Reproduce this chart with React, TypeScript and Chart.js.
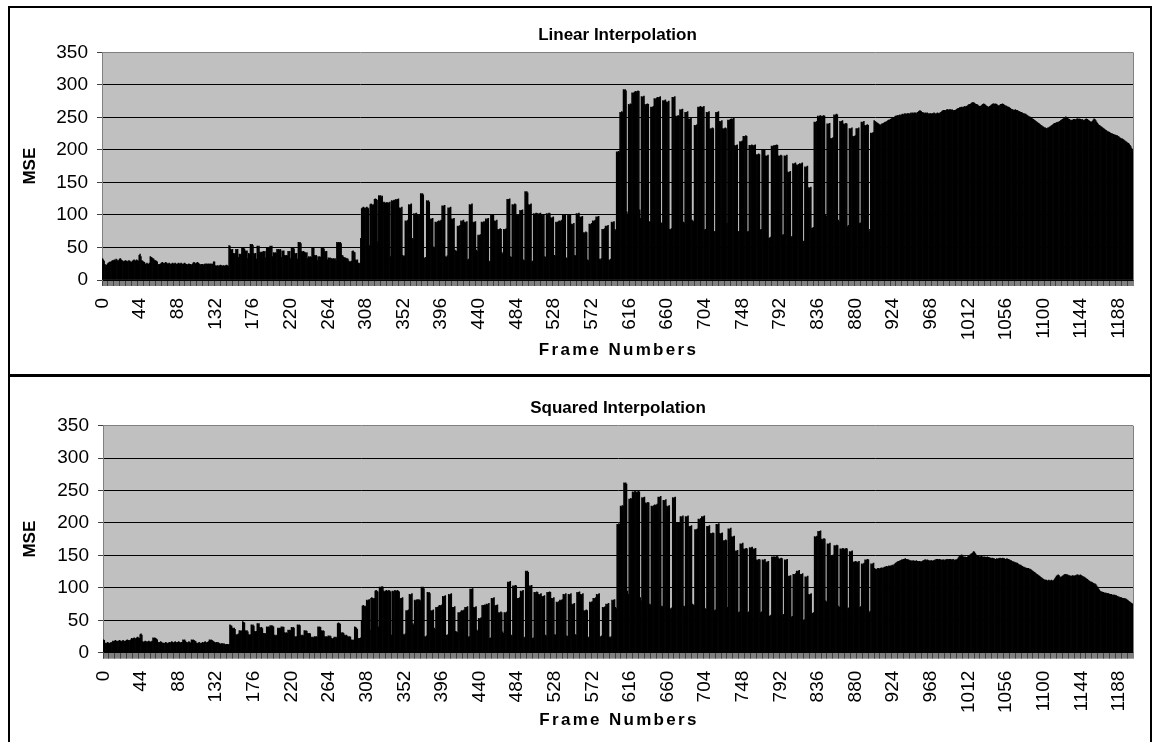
import { useEffect, useRef } from 'react';
import { Chart, registerables } from 'chart.js';

Chart.register(...registerables);

const FONT = "'Liberation Sans', Arial, Helvetica, sans-serif";
const FRAME_COUNT = 1205;
const frameNumbers = Array.from({ length: FRAME_COUNT }, (_, i) => String(i));
const tickLabels = [0, 44, 88, 132, 176, 220, 264, 308, 352, 396, 440, 484, 528, 572, 616, 660, 704, 748, 792, 836, 880, 924, 968, 1012, 1056, 1100, 1144, 1188];
const yTicks = [0, 50, 100, 150, 200, 250, 300, 350];
const X_TITLE = 'Frame Numbers';
const Y_TITLE = 'MSE';

// ---------- Linear interpolation MSE (frames 0..1204) ----------
const linearA = [
  33, 31, 29, 24, 22, 23, 25, 26, 27, 28, 27, 29, 30, 30, 31, 30, 32, 31, 29, 30, 32, 33, 31, 30, 29, 28, 29, 30,
  29, 28, 29, 30, 29, 28, 27, 29, 30, 31, 30, 29, 31, 30, 29, 38, 40, 36, 30, 29, 28, 27, 25, 24, 26, 25, 24, 26,
  36, 35, 34, 33, 32, 30, 30, 29, 28, 24, 23, 24, 25, 26, 27, 26, 25, 26, 27,
  26, 25, 25, 26, 25, 24, 25, 26, 25, 25, 26, 25, 24, 25, 26, 25, 25, 26, 25, 24, 25, 26, 25,
  24, 23, 24, 25, 24, 24, 23, 24, 26, 27, 26, 25, 26, 27, 26, 25, 24, 23, 24, 24, 23, 24, 25, 24,
  25, 24, 25, 24, 25, 24, 25, 24, 28, 28, 22, 21, 22, 22, 21, 22, 23, 22, 21, 22, 22, 21, 22, 23, 22, 21,
];
const linearB = [
  53, 52, 47, 46, 47, 41, 40, 41, 47, 46, 47, 35, 40, 39, 40, 50, 49, 50, 48, 45, 44, 45, 33, 41, 40,
  55, 54, 55, 53, 41, 40, 41, 32, 52, 51, 52, 43, 42, 43, 42, 44, 43, 44, 34, 50, 49, 50, 49, 52, 51, 52, 36,
  42, 41, 42, 41, 47, 46, 47, 46, 47, 35, 45, 44, 45, 38, 37, 38, 37, 44, 43, 44, 33, 50, 49, 50, 48,
  41, 40, 41, 32, 58, 57, 58, 56, 44, 43, 44, 43, 42, 41, 42, 33, 36, 35, 36, 35, 50, 49, 50, 38, 37, 38, 30,
  36, 35, 36, 35, 50, 49, 50, 48, 44, 43, 44, 31, 34, 33, 34, 33, 33, 32, 33, 32, 33, 30, 58, 57, 58, 57, 58, 56,
  38, 37, 35, 34, 34, 33, 33, 32, 29, 28, 28, 29, 44, 45, 43, 42, 31, 30, 31, 26, 25, 26,
];
const linearC = [
  64, 110, 111, 112, 111, 110, 111, 112, 111, 110, 53, 116, 117, 116, 115, 116, 124, 125, 124, 123, 59,
  130, 129, 130, 128, 129, 119, 120, 119, 118, 119, 119, 118, 119, 120, 36, 122, 121, 122, 123, 122,
  124, 123, 124, 125, 111, 110, 111, 112, 38, 36, 37, 91, 90, 91, 92, 116, 115, 116, 117, 64, 62,
  102, 101, 102, 103, 100, 99, 100, 101, 133, 132, 133, 131, 34, 33, 35, 122, 121, 122, 120, 94, 93, 94, 95, 51, 49,
  89, 88, 89, 90, 91, 90, 91, 92, 114, 113, 114, 115, 36, 35, 37, 111, 110, 111, 112, 94, 93, 94, 95, 46, 45, 44,
  83, 82, 83, 84, 91, 90, 91, 92, 89, 88, 89, 90, 31, 32, 116, 115, 116, 117, 89, 88, 89, 90, 46, 44,
  69, 68, 69, 70, 89, 88, 89, 90, 89, 94, 93, 94, 95, 28, 29, 100, 99, 100, 101, 91, 90, 91, 92, 78, 77, 78, 79, 78, 42, 40,
  78, 77, 78, 79, 124, 123, 124, 125, 36, 35, 116, 115, 116, 117, 116, 100, 99, 100, 101, 107, 106, 107, 108, 31, 30,
  136, 135, 136, 134, 116, 115, 116, 117, 28, 29, 102, 101, 102, 103, 102, 102, 101, 102, 103, 100, 99, 100, 101, 36, 35,
  102, 101, 102, 103, 102, 96, 95, 96, 97, 38, 37, 89, 88, 89, 90, 91, 90, 91, 92, 100, 99, 100, 101, 34, 33,
  100, 99, 100, 101, 86, 85, 86, 87, 38, 37, 102, 101, 102, 103, 97, 96, 97, 98, 73, 72, 73, 74, 73, 31, 30,
  86, 85, 86, 87, 91, 90, 91, 92, 97, 96, 97, 98, 32, 31, 33, 78, 77, 78, 79, 83, 82, 83, 84, 31, 30, 32, 89, 88, 89, 90, 78, 76,
];
const linearD = [
  197, 196, 198, 197, 258, 257, 259, 258, 293, 292, 293, 291, 105, 100, 270, 269, 271, 270, 288, 287, 288, 289,
  290, 289, 290, 291, 290, 108, 95, 282, 281, 282, 283, 270, 269, 270, 271, 270, 90, 89,
  266, 265, 266, 267, 279, 278, 279, 280, 281, 280, 281, 282, 88, 87, 276, 275, 276, 277, 274, 273, 274, 275, 78, 77, 79,
  281, 280, 281, 282, 252, 251, 252, 253, 252, 262, 261, 262, 263, 89, 88, 258, 257, 258, 259, 248, 247, 248, 249, 92, 91, 90,
  238, 237, 238, 239, 266, 265, 266, 267, 266, 265, 266, 267, 77, 78, 258, 257, 258, 259, 233, 232, 233, 234, 233, 74, 75,
  258, 257, 258, 259, 244, 243, 244, 245, 233, 232, 233, 234, 233, 87, 246, 245, 246, 247, 248, 247, 248, 249,
  207, 206, 207, 208, 74, 75, 213, 212, 213, 214, 221, 220, 221, 222, 221, 74, 75, 207, 206, 207, 208, 207, 206, 207, 208,
  193, 192, 193, 194, 193, 77, 78, 200, 199, 200, 201, 191, 190, 191, 192, 64, 65, 66, 206, 205, 206,
  207, 206, 207, 208, 207, 191, 190, 191, 192, 191, 69, 70, 191, 190, 191, 192, 166, 165, 166, 167, 66, 67,
  179, 178, 179, 180, 177, 176, 177, 178, 179, 178, 179, 180, 59, 60, 174, 173, 174, 175, 142, 141, 142, 143, 79, 80, 81,
  243, 242, 243, 244, 252, 251, 252, 253, 252, 251, 252, 253, 252, 100, 98, 240, 239, 240, 241, 218, 217, 218, 219,
  254, 253, 254, 255, 254, 92, 90, 244, 243, 244, 245, 240, 239, 240, 241, 240, 82, 84,
  233, 232, 233, 234, 221, 220, 221, 222, 233, 232, 233, 234, 87, 88, 243, 242, 243, 244, 238, 237, 238, 239, 238, 74, 78,
  226, 225, 226, 227,
];
const linearE = [
  245, 244, 243, 242, 241, 240, 239, 238, 239, 240, 240, 241, 242, 243, 243, 244, 245, 246, 246, 247,
  248, 249, 250, 250, 251, 252, 252, 253, 253, 253, 254, 253, 254, 255, 254, 255, 256, 255, 255, 256,
  256, 255, 256, 257, 256, 257, 256, 257, 257, 256, 257, 258, 259, 260, 260, 259, 258, 257, 257, 256,
  257, 256, 257, 256, 255, 256, 256, 255, 256, 256, 257, 256, 255, 256, 257, 256, 256, 257, 258, 259,
  260, 261, 261, 260, 261, 262, 262, 261, 262, 262, 261, 262, 261, 260, 261, 261, 262, 263, 264, 264,
  265, 265, 266, 265, 266, 266, 267, 266, 267, 268, 269, 270, 270, 271, 272, 273, 273, 272, 271, 270,
  270, 269, 268, 267, 267, 268, 269, 270, 271, 270, 269, 268, 267, 266, 266, 267, 268, 269, 270, 271,
  271, 270, 271, 270, 269, 268, 268, 269, 270, 270, 271, 270, 269, 268, 268, 267, 266, 266, 265, 264,
  263, 262, 262, 261, 261, 262, 261, 261, 260, 259, 259, 258, 258, 257, 256, 256, 255, 255, 254, 253,
  252, 251, 251, 250, 249, 248, 247, 246, 245, 244, 243, 242, 241, 240, 239, 238, 237, 236, 235, 234,
  234, 233, 233, 234, 234, 235, 236, 237, 238, 239, 240, 241, 241, 242, 242, 243, 243, 244, 245, 246,
  247, 248, 249, 250, 251, 250, 249, 248, 247, 246, 246, 245, 246, 247, 247, 246, 247, 248, 248, 247,
  248, 247, 246, 247, 246, 245, 246, 247, 248, 247, 246, 245, 244, 243, 243, 244, 246, 248, 247, 245,
  243, 241, 239, 238, 237, 236, 235, 234, 233, 232, 231, 230, 229, 228, 228, 227, 226, 225, 225, 224,
  224, 223, 223, 222, 222, 221, 220, 219, 218, 217, 217, 216, 215, 214, 213, 212, 211, 210, 209, 207,
  205, 202, 199,
];

// ---------- Squared interpolation MSE (frames 0..1204) ----------
const squaredA = [
  20, 19, 15, 14, 15, 16, 15, 14, 15, 16, 15, 18, 17, 18, 19, 18, 17, 18, 18, 19, 18, 17, 18, 19, 18, 17, 18,
  19, 20, 19, 18, 19, 20, 22, 21, 22, 23, 22, 21, 23, 24, 23, 22, 28, 29, 27,
  17, 16, 17, 18, 17, 16, 17, 18, 17, 16, 17, 18, 23, 22, 23, 22, 21, 20, 16, 15, 16, 17, 16, 15,
  15, 14, 15, 16, 15, 14, 15, 16, 15, 16, 17, 16, 15, 16, 17, 16, 15, 16, 17, 16, 15, 16, 16,
  20, 19, 20, 18, 16, 15, 16, 17, 16, 15, 20, 19, 20, 19, 18, 17, 15, 14, 15, 16, 15, 14, 15,
  16, 15, 16, 17, 16, 15, 16, 17, 20, 19, 20, 19, 18, 17, 16, 15, 16, 15, 16, 15, 14, 13, 14, 14, 13, 14,
  13, 12, 13, 13, 12, 13,
];
const squaredB = [
  43, 42, 41, 38, 37, 38, 36, 28, 27, 28, 29, 34, 33, 34, 33, 48, 47, 46, 34, 33, 34, 32, 28, 27, 28,
  43, 42, 43, 41, 33, 32, 33, 45, 44, 45, 39, 38, 39, 37, 30, 29, 30, 29, 40, 39, 40, 39, 42, 41, 42, 41, 40,
  27, 26, 27, 26, 38, 37, 38, 37, 40, 39, 40, 39, 31, 30, 31, 30, 35, 34, 35, 34, 39, 38, 39, 38, 25, 24, 25,
  43, 42, 43, 42, 27, 26, 27, 26, 34, 33, 34, 33, 30, 29, 30, 29, 24, 23, 24, 23, 25, 24, 25, 24,
  40, 39, 40, 39, 34, 33, 34, 33, 25, 24, 25, 24, 26, 25, 26, 25, 22, 21, 22, 24, 23, 24, 23,
  45, 46, 45, 44, 31, 30, 31, 30, 27, 26, 27, 26, 25, 24, 25, 24, 20, 19, 20, 19, 40, 39, 38, 36, 22, 21, 22, 23,
];
const squaredC = [
  50, 72, 73, 72, 71, 72, 81, 80, 81, 82, 35, 84, 85, 84, 83, 84, 95, 96, 95, 94, 40,
  101, 100, 101, 102, 101, 95, 94, 95, 96, 95, 95, 96, 95, 94, 27, 95, 94, 95, 96, 95,
  95, 96, 95, 94, 84, 83, 84, 85, 28, 27, 29, 65, 64, 65, 66, 90, 89, 90, 91, 45, 43,
  81, 80, 81, 82, 81, 82, 81, 80, 101, 100, 101, 99, 25, 24, 26, 93, 92, 93, 91, 65, 64, 65, 66, 38, 36,
  70, 69, 70, 71, 73, 72, 73, 74, 87, 86, 87, 88, 27, 26, 28, 90, 89, 90, 91, 70, 69, 70, 71, 33, 32, 31,
  62, 61, 62, 63, 65, 64, 65, 66, 70, 69, 70, 71, 24, 25, 98, 97, 98, 99, 70, 69, 70, 71, 35, 33,
  53, 52, 53, 54, 73, 72, 73, 74, 73, 75, 74, 75, 76, 22, 23, 84, 83, 84, 85, 73, 72, 73, 74, 62, 61, 62, 63, 62, 32, 30,
  62, 61, 62, 63, 109, 108, 109, 110, 27, 26, 103, 102, 103, 104, 103, 84, 83, 84, 85, 95, 94, 95, 96, 24, 23,
  126, 125, 126, 124, 103, 102, 103, 104, 22, 23, 93, 92, 93, 94, 93, 90, 89, 90, 91, 87, 86, 87, 88, 27, 26,
  93, 92, 93, 94, 93, 84, 83, 84, 85, 28, 27, 78, 77, 78, 79, 81, 80, 81, 82, 90, 89, 90, 91, 26, 25,
  90, 89, 90, 91, 75, 74, 75, 76, 28, 27, 93, 92, 93, 94, 90, 89, 90, 91, 65, 64, 65, 66, 65, 24, 23,
  78, 77, 78, 79, 84, 83, 84, 85, 90, 89, 90, 91, 25, 24, 26, 70, 69, 70, 71, 75, 74, 75, 76, 24, 23, 25, 81, 80, 81, 82, 70, 68,
];
const squaredD = [
  198, 197, 199, 198, 226, 225, 227, 226, 262, 261, 262, 260, 95, 90, 237, 236, 238, 237, 248, 247, 248, 249,
  248, 247, 248, 249, 248, 85, 80, 239, 238, 239, 240, 231, 230, 231, 232, 231, 75, 74,
  226, 225, 226, 227, 228, 227, 228, 229, 240, 239, 240, 241, 72, 71, 235, 234, 235, 236, 226, 225, 226, 227, 68, 67, 69,
  239, 238, 239, 240, 200, 199, 200, 201, 200, 210, 209, 210, 211, 72, 71, 210, 209, 210, 211, 195, 194, 195, 196, 75, 74, 73,
  190, 189, 190, 191, 206, 205, 206, 207, 210, 209, 210, 211, 68, 67, 195, 194, 195, 196, 184, 183, 184, 185, 184, 65, 66,
  198, 197, 198, 199, 184, 183, 184, 185, 173, 172, 173, 174, 173, 70, 191, 190, 191, 192, 179, 178, 179, 180,
  157, 156, 157, 158, 62, 63, 168, 167, 168, 169, 160, 159, 160, 161, 160, 62, 63, 162, 161, 162, 163, 160, 159, 160, 161,
  143, 142, 143, 144, 143, 62, 63, 143, 142, 143, 144, 140, 139, 140, 141, 56, 57, 58, 148, 147, 148,
  148, 147, 148, 149, 148, 145, 144, 145, 146, 145, 58, 59, 143, 142, 143, 144, 118, 117, 118, 119, 55, 56,
  121, 120, 121, 122, 126, 125, 126, 127, 121, 120, 121, 122, 50, 51, 117, 116, 117, 118, 90, 89, 90, 91, 60, 61, 62,
  179, 178, 179, 180, 187, 186, 187, 188, 175, 174, 175, 176, 175, 80, 78, 168, 167, 168, 169, 150, 149, 150, 151,
  165, 164, 165, 166, 165, 72, 70, 160, 159, 160, 161, 160, 159, 160, 161, 160, 68, 69,
  156, 155, 156, 157, 140, 139, 140, 141, 140, 139, 140, 141, 70, 71, 137, 136, 137, 138, 143, 142, 143, 144, 143, 62, 64,
  137, 136, 137, 138,
];
const squaredE = [
  130, 129, 128, 129, 130, 130, 129, 130, 131, 130, 131, 131, 132, 132, 133, 132, 133, 134, 133, 134,
  134, 135, 134, 136, 137, 138, 139, 140, 141, 141, 142, 142, 143, 143, 144, 144, 145, 144, 144, 143,
  143, 142, 142, 141, 142, 141, 142, 141, 141, 142, 141, 141, 140, 141, 140, 140, 141, 142, 142, 143,
  143, 142, 143, 142, 142, 141, 142, 142, 141, 142, 142, 143, 143, 144, 144, 143, 144, 143, 143, 142,
  143, 143, 142, 143, 143, 144, 144, 143, 144, 144, 143, 143, 144, 143, 142, 143, 143, 144, 146, 148,
  149, 150, 151, 149, 148, 147, 148, 147, 147, 148, 149, 150, 151, 152, 153, 154, 156, 155, 153, 151,
  150, 149, 149, 148, 148, 149, 148, 148, 147, 148, 147, 147, 148, 147, 147, 146, 146, 145, 146, 145,
  145, 144, 144, 145, 144, 145, 145, 146, 145, 145, 146, 145, 145, 144, 144, 145, 144, 144, 143, 142,
  142, 141, 140, 140, 139, 139, 138, 138, 137, 136, 135, 135, 134, 133, 132, 132, 131, 131, 130, 130,
  130, 129, 129, 128, 127, 126, 125, 124, 123, 122, 121, 120, 119, 118, 117, 116, 115, 114, 113, 112,
  112, 112, 111, 111, 112, 111, 111, 112, 111, 111, 112, 114, 116, 118, 119, 120, 119, 117, 116, 117,
  118, 119, 120, 121, 121, 120, 120, 119, 119, 118, 118, 118, 119, 118, 118, 119, 119, 120, 120, 119,
  119, 120, 119, 118, 117, 117, 116, 115, 114, 113, 112, 111, 110, 109, 109, 108, 107, 106, 106, 105,
  103, 101, 99, 97, 95, 94, 94, 93, 93, 92, 92, 92, 91, 91, 91, 90, 90, 90, 89, 89,
  89, 89, 88, 88, 87, 86, 86, 85, 85, 85, 84, 84, 84, 83, 83, 82, 81, 80, 79, 78,
  77, 76, 75,
];

const linearMSE = [...linearA, ...linearB, ...linearC, ...linearD, ...linearE];
const squaredMSE = [...squaredA, ...squaredB, ...squaredC, ...squaredD, ...squaredE];

const labelSet = new Set(tickLabels);

type Geom = {
  width: number;
  height: number;
  titleTop: number;
  titleBottom: number;
  yWidth: number;
  xHeight: number;
  padRight: number;
  xTitleY: number;
  yTitlePad: number;
};

function makeFramePlugin(geom: Geom) {
  return {
    id: 'plotFrame',
    beforeDraw(chart: any) {
      const { ctx, chartArea: a } = chart;
      ctx.save();
      ctx.fillStyle = '#c0c0c0';
      ctx.fillRect(a.left, a.top, a.right - a.left, a.bottom - a.top);
      ctx.restore();
    },
    beforeDatasetsDraw(chart: any) {
      const { ctx, chartArea: a } = chart;
      ctx.save();
      ctx.strokeStyle = '#808080';
      ctx.lineWidth = 1;
      ctx.beginPath();
      ctx.moveTo(Math.round(a.right) + 0.5, a.top);
      ctx.lineTo(Math.round(a.right) + 0.5, a.bottom);
      ctx.stroke();
      ctx.restore();
    },
    afterDraw(chart: any) {
      const { ctx, chartArea: a } = chart;
      ctx.save();
      ctx.font = `bold 17px ${FONT}`;
      (ctx as any).letterSpacing = '2.3px';
      ctx.fillStyle = '#000';
      ctx.textAlign = 'center';
      ctx.textBaseline = 'middle';
      ctx.fillText(X_TITLE, (a.left + a.right) / 2 + 1, geom.xTitleY);
      ctx.restore();
    },
  };
}

function MseChart({ title, values, geom }: { title: string; values: number[]; geom: Geom }) {
  const ref = useRef<HTMLCanvasElement | null>(null);
  useEffect(() => {
    if (!ref.current) return;
    const chart = new Chart(ref.current, {
      type: 'bar',
      data: {
        labels: frameNumbers,
        datasets: [
          {
            data: values,
            backgroundColor: '#000000',
            borderWidth: 0,
            barPercentage: 1,
            categoryPercentage: 1,
          },
        ],
      },
      options: {
        responsive: false,
        animation: false,
        devicePixelRatio: 1,
        layout: { padding: { left: 0, right: geom.padRight, top: 0, bottom: 0 } },
        plugins: {
          legend: { display: false },
          tooltip: { enabled: false },
          title: {
            display: true,
            fullSize: false,
            text: title,
            color: '#000',
            font: { family: FONT, size: 17, weight: 'bold' },
            padding: { top: geom.titleTop, bottom: geom.titleBottom },
          },
        },
        scales: {
          x: {
            type: 'category',
            offset: true,
            grid: {
              display: true,
              drawOnChartArea: false,
              drawTicks: true,
              tickLength: 6,
              color: '#000',
              lineWidth: 0.5,
            },
            border: { display: true, color: '#000', width: 1 },
            ticks: {
              autoSkip: false,
              maxRotation: 90,
              minRotation: 90,
              padding: 12,
              color: '#000',
              font: { family: FONT, size: 19 },
              callback: (_v: any, i: number) => (labelSet.has(i) ? frameNumbers[i] : ''),
            },
            title: { display: false, text: X_TITLE },
            afterFit: (s: any) => {
              s.height = geom.xHeight;
              s.paddingLeft = 0;
              s.paddingRight = 0;
            },
          },
          y: {
            min: 0,
            max: 350,
            afterBuildTicks: (s: any) => {
              s.ticks = yTicks.map((v) => ({ value: v }));
            },
            ticks: {
              stepSize: 50,
              padding: 9,
              color: '#000',
              font: { family: FONT, size: 19 },
            },
            grid: {
              color: (c: any) => (c.tick && c.tick.value === 350 ? '#808080' : '#000'),
              lineWidth: 1,
              tickLength: 5,
              tickColor: '#404040',
              drawTicks: true,
            },
            border: { display: true, color: '#808080', width: 1 },
            title: {
              display: true,
              text: Y_TITLE,
              color: '#000',
              font: { family: FONT, size: 17, weight: 'bold' },
              padding: { top: geom.yTitlePad, bottom: 0 },
            },
            afterFit: (s: any) => {
              s.width = geom.yWidth;
              s.paddingTop = 0;
              s.paddingBottom = 0;
            },
          },
        },
      },
      plugins: [makeFramePlugin(geom)],
    } as any);
    return () => chart.destroy();
  }, [title, values, geom]);
  return (
    <canvas
      ref={ref}
      width={geom.width}
      height={geom.height}
      style={{ display: 'block', width: geom.width, height: geom.height }}
    />
  );
}

const geomTop: Geom = {
  width: 1140,
  height: 366,
  titleTop: 17,
  titleBottom: 7,
  yWidth: 92,
  xHeight: 94,
  padRight: 17,
  xTitleY: 342,
  yTitlePad: 10,
};

const geomBottom: Geom = {
  width: 1140,
  height: 365,
  titleTop: 20.8,
  titleBottom: 7.5,
  yWidth: 93,
  xHeight: 89.3,
  padRight: 17,
  xTitleY: 343,
  yTitlePad: 10,
};

export default function App() {
  return (
    <div style={{ fontFamily: FONT }}>
      <div
        style={{
          position: 'absolute',
          left: 8,
          top: 6,
          width: 1144,
          height: 370,
          border: '2px solid #000',
          boxSizing: 'border-box',
          background: '#fff',
        }}
      >
        <MseChart title="Linear Interpolation" values={linearMSE} geom={geomTop} />
      </div>
      <div
        style={{
          position: 'absolute',
          left: 8,
          top: 375,
          width: 1144,
          height: 367,
          borderLeft: '2px solid #000',
          borderTop: '2px solid #000',
          borderRight: '2px solid #000',
          boxSizing: 'border-box',
          background: '#fff',
        }}
      >
        <MseChart title="Squared Interpolation" values={squaredMSE} geom={geomBottom} />
      </div>
    </div>
  );
}
